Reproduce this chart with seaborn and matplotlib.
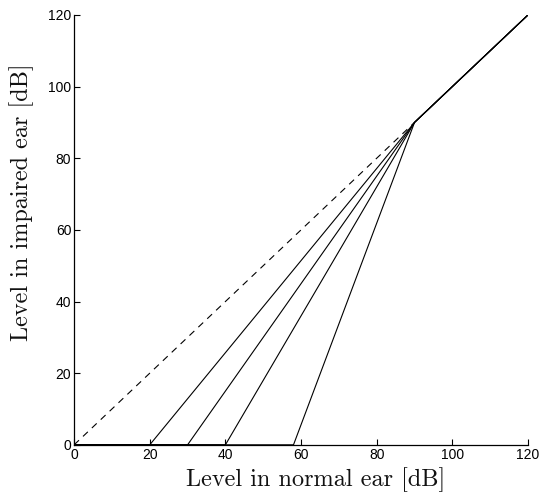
import numpy as np
import pandas as pd
import seaborn as sns
import matplotlib.pyplot as plt

sns.set_theme(style='ticks')
plt.rcParams['font.family'] = ['Liberation Sans', 'DejaVu Sans']

thresholds = [20, 30, 40, 58]
knee = 90
top_level = 120
ticks = [0, 20, 40, 60, 80, 100, 120]

# recruitment curves: flat until threshold, linear to the knee, then 1:1
rows = []
for t in thresholds:
    for x, y in [(0, 0), (t, 0), (knee, knee), (top_level, top_level)]:
        rows.append({'normal': x, 'impaired': y, 'thr': t})
df = pd.DataFrame(rows)
ref = pd.DataFrame({'normal': [0, knee], 'impaired': [0, knee]})

fig = plt.figure(figsize=(5.41, 4.97), dpi=100)
ax = fig.add_axes([0.137, 0.105, 0.839, 0.865])

sns.lineplot(data=df, x='normal', y='impaired', units='thr', estimator=None,
             sort=False, color='black', linewidth=0.8, ax=ax)
sns.lineplot(data=ref, x='normal', y='impaired', color='black',
             linewidth=0.8, linestyle=(0, (6, 5)), ax=ax)

ax.set_xlim(0, 120)
ax.set_ylim(0, 120)
ax.set_xticks(ticks)
ax.set_yticks(ticks)
ax.tick_params(direction='in', length=4, width=0.8, labelsize=10, pad=2,
               colors='black')
sns.despine(ax=ax)
for s in ['left', 'bottom']:
    ax.spines[s].set_linewidth(0.9)
    ax.spines[s].set_color('black')

ax.set_xlabel('Level in normal ear [dB]', family='cmr10', fontsize=17.5,
              color='#111111', va='center')
ax.set_ylabel('Level in impaired ear [dB]', family='cmr10', fontsize=17.5,
              color='#111111', va='center')
ax.xaxis.set_label_coords(0.533, -0.082)
ax.yaxis.set_label_coords(-0.115, 0.565)

fig.savefig('out.png', dpi=100)
